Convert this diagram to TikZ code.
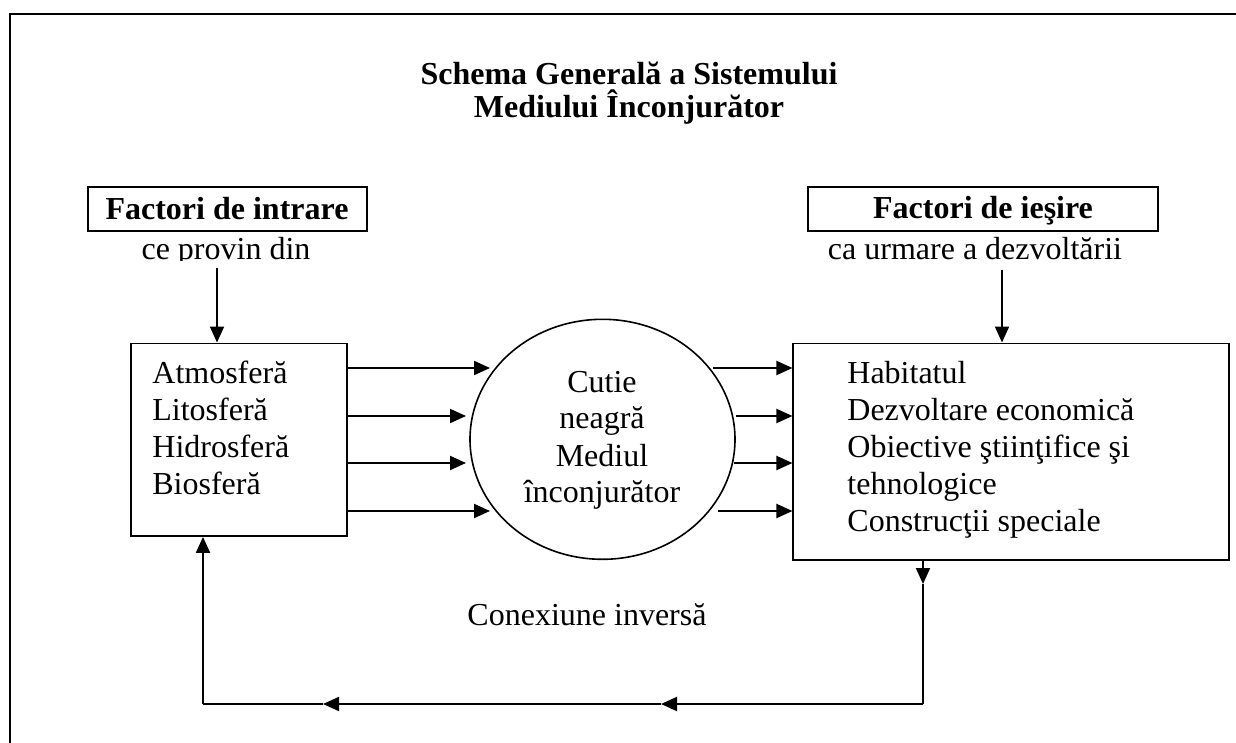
\documentclass[tikz,border=0pt]{standalone}
\usepackage{fontspec}
\setmainfont{Liberation Serif}
\usetikzlibrary{arrows.meta,shapes.geometric}
\tikzset{
  txt/.style={inner sep=0pt, font=\fontsize{16}{18}\selectfont},
  btxt/.style={inner sep=0pt, font=\fontsize{16}{18}\selectfont\bfseries},
  boxshape/.style={draw, line width=0.85pt, rectangle, inner sep=0pt},
  ln/.style={line width=1pt},
  arr/.style={line width=1pt, -{Triangle[length=8pt,width=7pt]}},
}
\begin{document}
\begin{tikzpicture}[x=0.5pt,y=-0.5pt]
\useasboundingbox (0,0) rectangle (1236,743);
% frame
\draw[line width=1.1pt] (1236,14) -- (10,14) -- (10,743);
% title
\node[btxt, anchor=base] (title1) at (629,85) {Schema Generală a Sistemului};
\node[btxt, anchor=base] (title2) at (629,118) {Mediului Înconjurător};
% top boxes
\node[boxshape, minimum width=139.5pt, minimum height=22pt] (inbox) at (227.5,209) {};
\node[btxt, anchor=base] (intxt) at (227,220) {Factori de intrare};
\node[boxshape, minimum width=175pt, minimum height=22pt] (outbox) at (983,209) {};
\node[btxt, anchor=base] (outtxt) at (983,219) {Factori de ieşire};
\begin{scope}
\clip (0,0) rectangle (600,261);
\node[txt, anchor=base] (insub) at (226,260) {ce provin din};
\end{scope}
\node[txt, anchor=base] (outsub) at (975,260) {ca urmare a dezvoltării};
% main boxes
\node[boxshape, minimum width=108pt, minimum height=96.35pt] (lbox) at (238.7,439.7) {};
\node[txt, anchor=base west] (l1) at (152,383) {Atmosferă};
\node[txt, anchor=base west] (l2) at (152,420) {Litosferă};
\node[txt, anchor=base west] (l3) at (152,457) {Hidrosferă};
\node[txt, anchor=base west] (l4) at (152,494) {Biosferă};
\node[boxshape, minimum width=218pt, minimum height=108.35pt] (rbox) at (1011.3,451.7) {};
\node[txt, anchor=base west] (r1) at (847,383) {Habitatul};
\node[txt, anchor=base west] (r2) at (847,420) {Dezvoltare economică};
\node[txt, anchor=base west] (r3) at (847,457) {Obiective ştiinţifice şi};
\node[txt, anchor=base west] (r4) at (847,494) {tehnologice};
\node[txt, anchor=base west] (r5) at (847,531) {Construcţii speciale};
% ellipse
\node[draw, ellipse, line width=0.8pt, inner sep=0pt, minimum width=132.5pt, minimum height=120pt] (blk) at (602.5,439.3) {};
\node[txt, anchor=base] (c1) at (602,392) {Cutie};
\node[txt, anchor=base] (c2) at (602,428) {neagră};
\node[txt, anchor=base] (c3) at (602,466) {Mediul};
\node[txt, anchor=base] (c4) at (602,502) {înconjurător};
% label
\node[txt, anchor=base] (conex) at (587,625) {Conexiune inversă};
% top arrows
\coordinate (inA) at (217,268);
\draw[arr] (inA) -- (inA |- lbox.north);
\coordinate (outA) at (1002,270);
\draw[arr] (outA) -- (outA |- rbox.north);
% left arrows into ellipse
\coordinate (e1) at (490,368);
\coordinate (e2) at (466,416);
\coordinate (e3) at (466,463);
\coordinate (e4) at (490,511);
\foreach \e in {e1,e2,e3,e4} \draw[arr] (\e -| lbox.east) -- (\e);
% right arrows out of ellipse
\coordinate (f1) at (713,368);
\coordinate (f2) at (736,416);
\coordinate (f3) at (734,463);
\coordinate (f4) at (718,511);
\foreach \f in {f1,f2,f3,f4} \draw[arr] (\f) -- (\f -| rbox.west);
% feedback loop
\coordinate (fbtip) at (923,584);
\coordinate (fb) at (923,704);
\coordinate (m1) at (661,704);
\coordinate (m2) at (323,704);
\coordinate (fb2) at (203,704);
\draw[arr] (fbtip |- rbox.south) -- (fbtip);
\draw[ln] (fbtip) -- (fb);
\draw[arr] (fb) -- (m1);
\draw[arr] (m1) -- (m2);
\draw[ln] (m2) -- (fb2);
\draw[arr] (fb2) -- (fb2 |- lbox.south);
\end{tikzpicture}
\end{document}
